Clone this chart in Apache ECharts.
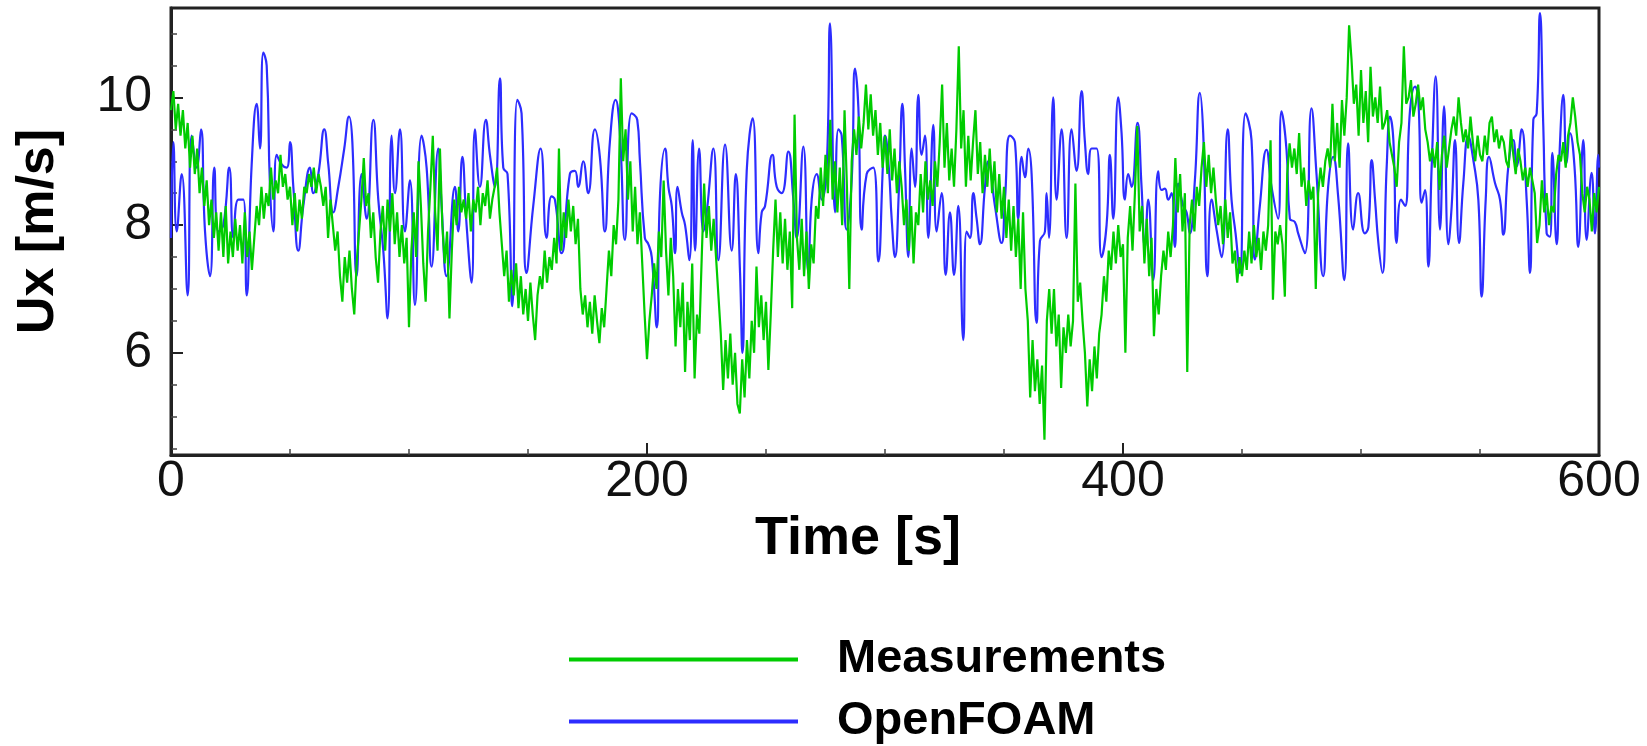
<!DOCTYPE html>
<html>
<head>
<meta charset="utf-8">
<script src="https://cdn.jsdelivr.net/npm/echarts@6/dist/echarts.min.js"></script>
<style>
html,body{margin:0;padding:0;background:#fff;}
#chart{width:1647px;height:746px;}
</style>
</head>
<body>
<div id="chart"></div>
<script>
// ---- Data ----
const seriesNames = ['Measurements', 'OpenFOAM'];
const xTickLabels = [0, 200, 400, 600];
const yTickLabels = [6, 8, 10];
const yMinorTicks = [4.5, 5, 5.5, 6.5, 7, 7.5, 8.5, 9, 9.5, 10.5, 11];

// Measurements: one sample per second, t = 0 .. 600 s
const measStartTime = 0;
const measStep = 1;
const measUx = [
9.8,10.1,9.5,9.9,9.4,9.8,9.2,9.6,8.9,9.4,
8.8,9.2,8.5,8.9,8.3,8.7,8.0,8.4,7.8,8.2,
7.6,8.2,7.5,8.3,7.4,7.9,7.5,8.1,7.6,8.0,
7.4,8.2,7.5,7.9,7.3,7.8,8.3,8.0,8.6,8.1,
8.5,8.3,8.9,8.4,8.7,8.5,9.1,8.6,8.8,8.4,
8.6,8.0,8.5,7.9,8.4,8.1,8.6,8.5,8.8,8.6,
8.9,8.5,8.8,8.6,8.3,8.6,7.8,8.4,8.0,7.6,
7.9,7.2,6.8,7.5,7.1,7.6,7.0,6.6,7.4,7.9,
8.4,9.05,8.3,8.5,7.8,8.2,7.5,7.1,7.9,8.3,
7.6,8.4,7.9,8.5,7.7,8.2,7.5,8.0,7.4,7.8,
6.4,7.6,8.2,7.5,9.0,8.3,7.4,6.8,7.9,8.6,
9.4,8.2,7.6,9.2,8.0,7.4,7.9,6.54,7.6,8.4,
8.0,8.6,8.2,8.4,8.1,8.5,7.9,8.4,8.2,8.6,
8.0,8.5,8.3,8.7,8.1,8.4,8.6,8.9,8.2,7.7,
7.2,7.6,6.8,7.3,6.9,7.4,6.7,7.2,6.6,7.0,
6.5,7.1,6.6,6.2,6.9,7.2,7.0,7.6,7.1,7.5,
7.3,7.8,7.4,9.2,7.6,8.2,7.8,8.4,7.9,8.3,
7.7,8.1,7.0,6.6,6.9,6.4,6.8,6.3,6.9,6.5,
6.15,6.7,6.4,7.0,7.6,7.2,8.0,7.7,8.4,10.3,
9.0,9.5,8.4,9.0,7.9,8.6,7.7,8.2,7.4,6.6,
5.9,6.5,6.9,7.4,7.0,7.9,7.5,8.7,7.6,6.9,
7.8,7.2,6.1,7.0,6.4,7.1,5.7,6.8,6.2,7.4,
5.6,6.6,6.3,7.5,8.65,7.8,8.3,7.6,8.1,7.5,
6.9,6.3,5.42,6.2,5.6,6.3,5.5,6.0,5.2,5.05,
5.9,5.3,6.2,5.6,6.5,6.0,7.35,6.4,6.9,6.2,
6.8,5.73,6.6,7.6,8.4,7.5,8.2,7.4,8.1,7.3,
7.9,6.7,9.73,7.8,7.3,8.1,7.2,7.9,7.0,7.7,
7.4,8.3,8.1,8.9,8.3,9.1,8.5,9.65,8.4,9.0,
8.2,8.9,8.0,9.8,8.6,7.0,9.0,9.5,9.1,9.7,
9.2,9.6,10.2,9.5,10.05,9.4,9.8,9.1,9.6,8.9,
9.4,8.8,9.5,8.7,9.2,8.5,9.0,8.6,8.0,8.4,
7.6,8.3,7.4,8.2,8.0,8.8,8.2,9.0,8.4,8.7,
8.3,9.0,8.6,9.3,10.2,8.9,9.6,8.7,9.2,8.6,
9.5,10.8,9.2,9.8,8.6,9.4,8.7,9.3,9.8,8.8,
9.3,8.5,9.1,8.6,9.2,8.5,9.0,8.2,8.8,8.1,
8.6,7.8,8.4,7.6,8.3,7.5,8.1,7.0,8.2,7.0,
6.5,5.3,6.2,5.4,5.9,5.2,5.8,4.64,6.5,7.0,
6.3,7.0,6.1,6.6,5.45,6.4,6.0,6.6,6.1,6.5,
8.65,6.8,7.1,6.5,6.0,5.16,5.9,5.4,6.1,5.6,
6.3,6.6,7.2,6.8,7.6,7.3,7.9,7.4,8.0,7.5,
7.7,6.0,7.8,8.3,7.6,8.5,9.55,7.9,8.3,7.4,
8.1,7.2,7.8,6.26,7.0,6.6,7.2,7.6,7.3,7.9,
7.5,8.0,9.05,8.2,8.8,7.9,8.5,5.7,8.0,8.4,
7.9,8.6,8.3,8.9,9.3,8.6,9.1,8.5,8.9,8.4,
8.0,8.3,7.7,8.4,7.8,8.2,7.4,7.6,7.1,7.5,
7.2,7.6,7.3,7.9,7.4,8.0,7.5,7.8,7.3,7.9,
7.6,8.0,9.33,6.83,7.9,7.7,8.0,7.7,6.88,8.8,
9.28,8.9,9.2,8.8,9.44,8.6,8.9,8.3,8.7,8.4,
8.6,7.0,8.5,8.9,8.6,9.0,9.2,8.9,9.9,9.0,
9.6,8.9,9.96,9.4,10.0,11.13,10.6,9.9,10.2,9.4,
10.43,9.6,10.1,9.3,10.48,9.7,10.0,9.6,10.17,9.5,
9.6,9.8,9.3,9.1,8.9,8.6,9.3,9.6,10.8,9.9,
10.0,10.27,9.7,9.9,10.2,9.8,10.0,9.5,9.3,9.0,
9.2,8.9,9.3,8.55,9.1,9.4,8.9,9.2,9.5,9.7,
9.4,10.0,9.6,9.3,9.5,9.2,9.7,9.3,9.0,9.4,
9.1,9.0,9.4,9.1,9.6,9.7,9.3,9.5,9.2,9.4,
9.3,9.0,8.9,9.5,9.1,8.8,9.2,9.0,8.7,8.9,
8.6,8.9,8.7,8.5,7.72,8.0,8.7,8.2,8.5,8.0,
8.3,8.2,8.8,9.1,9.0,9.3,8.9,9.4,9.6,10.0,
9.7,9.3,9.1,8.5,8.2,8.6,8.4,7.9,8.5,8.2,
8.6
];

// OpenFOAM: turning points
const ofTime = [
0,1.0,2.4,4.5,7.0,8.7,10.8,12.6,14.3,16.4,18.2,19.9,22,24.5,26.2,28.3,30.4,31.8,33.9,36,37.4,38.8,40.2,41.6,43,44.4,46.5,48.6,50,51.4,53.5,55.6,58.4,59.8,61.9,64.4,66.1,68.2,70.3,72.8,74.8,76.2,78,80.1,82.2,85,87.1,89.2,91,92.7,94.1,96.2,98.3,
100.4,102.5,105.3,107.4,109.5,112.3,113.7,115.8,119.3,120.7,122.4,124.2,126.3,127.7,129.8,132.3,134,136.1,138.2,139.6,141.4,143.4,145.5,147.3,149.4,152.2,155.3,157.8,159.9,161.3,164.1,167.6,169.7,171.1,173.2,175.3,178.1,180.2,182.3,184.4,186.8,188.6,190.7,193.5,195.9,197,199.1,
200.6,202,204.1,205.5,207.6,209,210.4,211.8,212.8,214.6,216,217.8,219.2,220.2,221.9,223.7,225.1,227.9,230,232.8,235.6,237.3,239.1,240.1,241.9,244.4,246.8,248.2,249.6,252.7,254.5,256.6,259.4,261.5,262.9,265.7,267.8,269.2,271.3,273.4,275.5,276.9,279,280.4,281.8,283.9,286,287.4,288.8,290.2,292.3,295.1,297.2,299.3,
300,301.6,302.8,304.2,305.9,307.3,308.4,309.8,311.2,312.6,314,315.4,316.8,318.2,320.3,321.7,323.8,325.5,327.3,329,330.8,332.9,334.3,335.7,337.1,338.5,339.9,342,343.4,346.2,349,350.4,352.5,354.6,356,357.4,358.8,360.2,361.6,363.7,365.1,367.2,367.9,368.9,370.7,372.1,374.2,376.3,378.4,380.5,382.6,384,385.4,386.8,388.9,391,393.1,394.5,395.9,398,399.4,
400.8,402.2,403.6,406.1,407.8,409.2,410.6,412.7,414.8,416.2,417.6,419,420.4,421.8,423.2,425.3,426.7,428.1,430.2,432.3,433.7,435.5,437.2,439.3,441.4,444,445.6,447.3,449.1,451.5,454,455.4,457.5,460.3,462.4,465.2,466.6,468.7,470.1,472.2,473.6,476.4,479.2,481.3,484.1,486.2,488.3,490.4,493,494.6,496.7,498.8,501.6,
503.1,504.5,505.9,507.3,509,510.8,512.2,513.6,515,516.8,518.5,520.6,522.7,524.1,525.5,526.9,528.3,529.7,531.4,533.2,534.9,536.7,538.1,539.5,541.2,543,545.1,547.2,549.3,550.7,552.4,553.8,556.3,558.4,559.8,561.9,564,565.4,567.5,569.6,571,572.4,573.8,575.2,576.6,578,579.4,580.4,582.2,583.6,585,586.4,587.8,589.7,591.3,593.4,594.8,596.9,598.3,599.7,600
];
const ofUx = [
7.8,9.3,7.9,8.8,6.9,9.4,8.9,9.5,7.9,7.2,8.9,7.9,8.0,8.9,7.8,8.4,8.4,6.9,8.95,9.9,9.2,10.7,10.5,8.6,7.9,9.1,8.95,8.9,9.3,8.6,7.6,8.3,8.9,8.5,8.8,9.5,8.95,8.2,8.6,9.2,9.7,9.3,7.2,8.8,8.1,9.65,8.4,7.6,6.54,9.4,8.5,9.5,7.9,
8.7,6.75,9.4,8.9,7.35,9.2,8.3,7.2,8.6,7.9,9.07,8.0,7.1,9.5,8.6,9.65,9.1,8.6,10.3,8.9,8.8,6.73,9.96,9.75,7.25,8.3,9.2,7.8,8.45,8.4,7.56,8.8,8.85,8.6,9.0,8.5,9.5,9.07,7.9,9.3,9.96,9.44,7.77,9.75,9.65,9.02,7.8,
7.7,7.5,6.4,8.5,9.2,8.6,8.3,7.56,8.6,8.2,8.0,7.45,9.33,7.6,9.2,7.9,8.2,9.2,7.45,9.26,7.6,8.8,7.25,6.0,8.85,9.67,7.56,8.2,8.3,9.1,8.6,8.5,9.15,8.4,7.8,9.23,7.25,8.4,8.8,8.4,8.9,11.16,8.2,9.5,9.4,7.93,8.7,10.45,9.85,7.93,8.8,8.9,7.43,9.07,
9.4,8.9,8.1,7.5,8.6,9.9,8.9,7.5,9.2,8.6,10.04,9.1,9.4,7.8,9.57,7.9,8.5,7.22,8.2,7.22,8.3,6.2,7.9,7.8,8.5,8.1,7.7,8.6,9.0,8.3,7.72,8.4,9.4,9.3,8.1,9.07,8.75,9.2,8.8,6.47,7.75,7.9,8.5,7.8,10.0,8.4,9.5,7.8,9.5,8.85,10.1,9.3,8.8,9.2,9.2,7.5,8.0,9.1,8.1,10.0,9.44,
8.4,8.8,8.6,9.6,8.6,7.66,8.4,7.14,8.84,8.55,8.57,8.4,8.5,7.66,8.65,8.3,8.2,7.87,8.7,10.07,9.44,7.2,8.4,7.93,7.5,9.5,8.4,7.87,7.25,9.75,9.33,7.46,8.3,9.18,8.6,8.1,9.78,9.18,8.1,8.05,7.87,7.56,9.83,8.8,7.2,8.6,9.07,8.45,7.14,9.28,7.93,8.5,7.87,
7.97,9.02,8.4,7.72,7.25,8.92,9.7,9.33,7.72,8.4,8.3,9.8,10.17,9.96,8.35,8.55,7.35,8.92,10.33,7.93,9.86,7.7,8.3,9.33,7.72,8.66,9.39,9.02,8.4,6.88,8.4,9.07,8.66,8.4,7.85,8.92,9.33,8.92,9.5,8.4,7.25,9.65,9.75,11.32,9.54,7.87,7.82,9.13,7.7,9.28,10.04,8.97,9.44,8.92,7.66,9.33,7.77,8.82,7.87,9.1,8.9
];

// ---- Build chart data from the arrays ----
const measData = measUx.map((v, i) => [measStartTime + i * measStep, v]);
const ofData = ofTime.map((t, i) => [t, ofUx[i]]);

const FONT = '"Liberation Sans", Arial, Helvetica, sans-serif';
const chart = echarts.init(document.getElementById('chart'), null, {renderer: 'canvas'});

chart.setOption({
  animation: false,
  backgroundColor: '#ffffff',
  grid: {
    left: 171, right: 48, top: 8, bottom: 291,
    show: true, borderColor: '#222', borderWidth: 3, backgroundColor: 'transparent'
  },
  legend: {
    data: seriesNames,
    orient: 'vertical',
    left: 569, top: 636,
    padding: 0,
    icon: 'rect',
    itemWidth: 229, itemHeight: 4,
    itemGap: 15,
    textStyle: {
      fontFamily: FONT, fontSize: 47, fontWeight: 'bold', color: '#000',
      lineHeight: 46, padding: [0, 0, 0, 34]
    }
  },
  xAxis: {
    type: 'value',
    min: 0, max: 600, interval: 200,
    name: 'Time [s]',
    nameLocation: 'middle',
    nameGap: 51,
    nameTextStyle: {
      fontFamily: FONT, fontSize: 54, fontWeight: 'bold', color: '#000',
      lineHeight: 54, padding: [0, 54, 0, 0]
    },
    axisLine: {show: true, onZero: false, lineStyle: {color: '#222', width: 3}},
    axisTick: {show: true, inside: true, length: 12, lineStyle: {color: '#222', width: 2}},
    minorTick: {show: true, splitNumber: 4, length: 6, lineStyle: {color: '#444', width: 1.5}},
    axisLabel: {
      fontFamily: FONT, fontSize: 50, color: '#111', margin: 2, lineHeight: 50,
      customValues: xTickLabels
    },
    splitLine: {show: false},
    minorSplitLine: {show: false}
  },
  yAxis: [
    {
      type: 'value',
      min: 4.4, max: 11.4,
      name: 'Ux [m/s]',
      nameLocation: 'middle',
      nameGap: 106,
      nameTextStyle: {
        fontFamily: FONT, fontSize: 52, fontWeight: 'bold', color: '#000', lineHeight: 52
      },
      axisLine: {show: true, onZero: false, lineStyle: {color: '#222', width: 3}},
      axisTick: {show: true, inside: true, length: 12, customValues: yTickLabels,
                 lineStyle: {color: '#222', width: 2}},
      axisLabel: {fontFamily: FONT, fontSize: 50, color: '#111', margin: 19,
                  customValues: yTickLabels},
      splitLine: {show: false}
    },
    {
      type: 'value',
      min: 4.4, max: 11.4,
      position: 'left',
      axisLine: {show: false},
      axisTick: {show: true, inside: true, length: 6, customValues: yMinorTicks,
                 lineStyle: {color: '#444', width: 1.5}},
      axisLabel: {show: false, customValues: yMinorTicks},
      splitLine: {show: false}
    }
  ],
  series: [
    {
      name: 'OpenFOAM',
      type: 'line',
      data: ofData,
      showSymbol: false,
      smooth: 0.5,
      color: '#2d2dff',
      lineStyle: {color: '#2d2dff', width: 2.2},
      z: 2
    },
    {
      name: 'Measurements',
      type: 'line',
      data: measData,
      showSymbol: false,
      color: '#00cc00',
      lineStyle: {color: '#00cc00', width: 2.2},
      z: 3
    }
  ]
});
</script>
</body>
</html>
